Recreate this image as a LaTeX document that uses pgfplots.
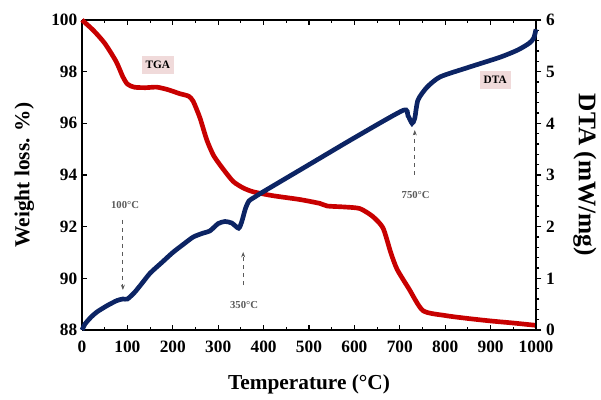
\documentclass[border=0pt]{standalone}
\usepackage{pgfplots}
\pgfplotsset{compat=1.18}
\usepackage{fontspec}
\setmainfont{Liberation Serif}
\usetikzlibrary{arrows.meta}
\definecolor{tgared}{RGB}{200,0,0}
\definecolor{dtablue}{RGB}{12,36,100}
\definecolor{boxpink}{RGB}{240,218,218}
\definecolor{anngray}{RGB}{90,90,90}
\begin{document}
\begin{tikzpicture}
\path[use as bounding box] (-61.5pt,-52.5pt) rectangle (389.25pt,247.5pt);
\begin{axis}[
  at={(0,0)}, anchor=south west,
  scale only axis, width=340.5pt, height=232.5pt,
  xmin=0, xmax=1000, ymin=88, ymax=100,
  xtick={0,100,...,1000}, ytick={88,90,...,100},
  minor x tick num=1,
  axis y line*=left, axis x line*=box,
  axis line style={line width=1.3pt},
  tick style={black, line width=0.8pt}, major tick length=4pt, minor tick length=2.5pt,
  tick label style={font=\bfseries\fontsize{13}{15}\selectfont},
  xticklabel style={yshift=-5pt},
  /pgf/number format/assume math mode=true,
  /pgf/number format/1000 sep={},
  xlabel={Temperature (°C)}, ylabel={Weight loss. \%)},
  xlabel style={font=\bfseries\fontsize{16}{18}\selectfont, yshift=-9pt},
  ylabel style={font=\bfseries\fontsize{16}{18}\selectfont, yshift=6pt},
  clip=false]
\addplot[tgared, line width=3.5pt, smooth, tension=0.4] coordinates {
 (0,100) (25,99.6) (50,99.1) (75,98.4) (90,97.8) (100,97.52) (115,97.4) (140,97.38)
 (165,97.4) (190,97.3) (215,97.15) (235,97.05) (245,96.85) (260,96.2) (275,95.35)
 (290,94.75) (310,94.25) (333,93.75) (355,93.5) (377,93.35) (420,93.2) (480,93.05)
 (524,92.9) (540,92.8) (580,92.76) (612,92.7) (640,92.4) (663,91.95) (680,91.0)
 (694,90.35) (720,89.6) (751,88.75) (800,88.56) (848,88.45) (900,88.35) (950,88.27) (1000,88.18)};
\node[fill=boxpink, font=\bfseries\fontsize{8.5}{10}\selectfont, inner sep=3pt, minimum height=14pt] at (axis cs:167,98.26) {TGA};
\node[fill=boxpink, font=\bfseries\fontsize{8.5}{10}\selectfont, inner sep=3pt, minimum height=14pt] at (axis cs:910,97.68) {DTA};
\node[anngray, font=\bfseries\fontsize{8}{10}\selectfont] at (axis cs:95,92.84) {100°C};
\draw[anngray, dashed, line width=0.6pt, -{Stealth[length=4pt]}] (axis cs:90,92.26) -- (axis cs:90,89.55);
\node[anngray, font=\bfseries\fontsize{8}{10}\selectfont] at (axis cs:357,88.97) {350°C};
\draw[anngray, dashed, line width=0.6pt, -{Stealth[length=4pt]}] (axis cs:355,89.74) -- (axis cs:355,91.02);
\node[anngray, font=\bfseries\fontsize{8}{10}\selectfont] at (axis cs:735,93.23) {750°C};
\draw[anngray, dashed, line width=0.6pt, -{Stealth[length=4pt]}] (axis cs:733,94.0) -- (axis cs:733,95.74);
\end{axis}
\begin{axis}[
  at={(0,0)}, anchor=south west,
  scale only axis, width=340.5pt, height=232.5pt,
  xmin=0, xmax=1000, ymin=0, ymax=6,
  axis x line=none, axis y line*=right,
  ytick={0,1,...,6}, minor y tick num=4,
  axis line style={line width=1.3pt},
  tick style={black, line width=0.8pt}, major tick length=4pt, minor tick length=2.5pt,
  tick align=outside,
  tick label style={font=\bfseries\fontsize{13}{15}\selectfont},
  /pgf/number format/assume math mode=true,
  ylabel={DTA (mW/mg)},
  ylabel style={font=\bfseries\fontsize{19}{21}\selectfont, rotate=180, yshift=7pt},
  clip=false]
\addplot[dtablue, line width=3.5pt, smooth, tension=0.4] coordinates {
 (0,0.0) (7,0.12) (20,0.25) (33,0.35) (55,0.47) (77,0.57) (90,0.6) (100,0.6)
 (115,0.72) (130,0.88) (150,1.1) (175,1.3) (200,1.5) (225,1.67) (245,1.8) (265,1.87)
 (282,1.92) (300,2.06) (315,2.1) (330,2.07) (345,1.97) (352,2.1) (360,2.35) (368,2.5)
 (380,2.57) (400,2.68) (500,3.2) (600,3.72) (707,4.25) (718,4.15) (727,4.0) (733,4.1)
 (740,4.45) (760,4.7) (789,4.9) (850,5.08) (921,5.28) (960,5.42) (985,5.55) (995,5.65) (1000,5.82)};
\end{axis}
\end{tikzpicture}
\end{document}
